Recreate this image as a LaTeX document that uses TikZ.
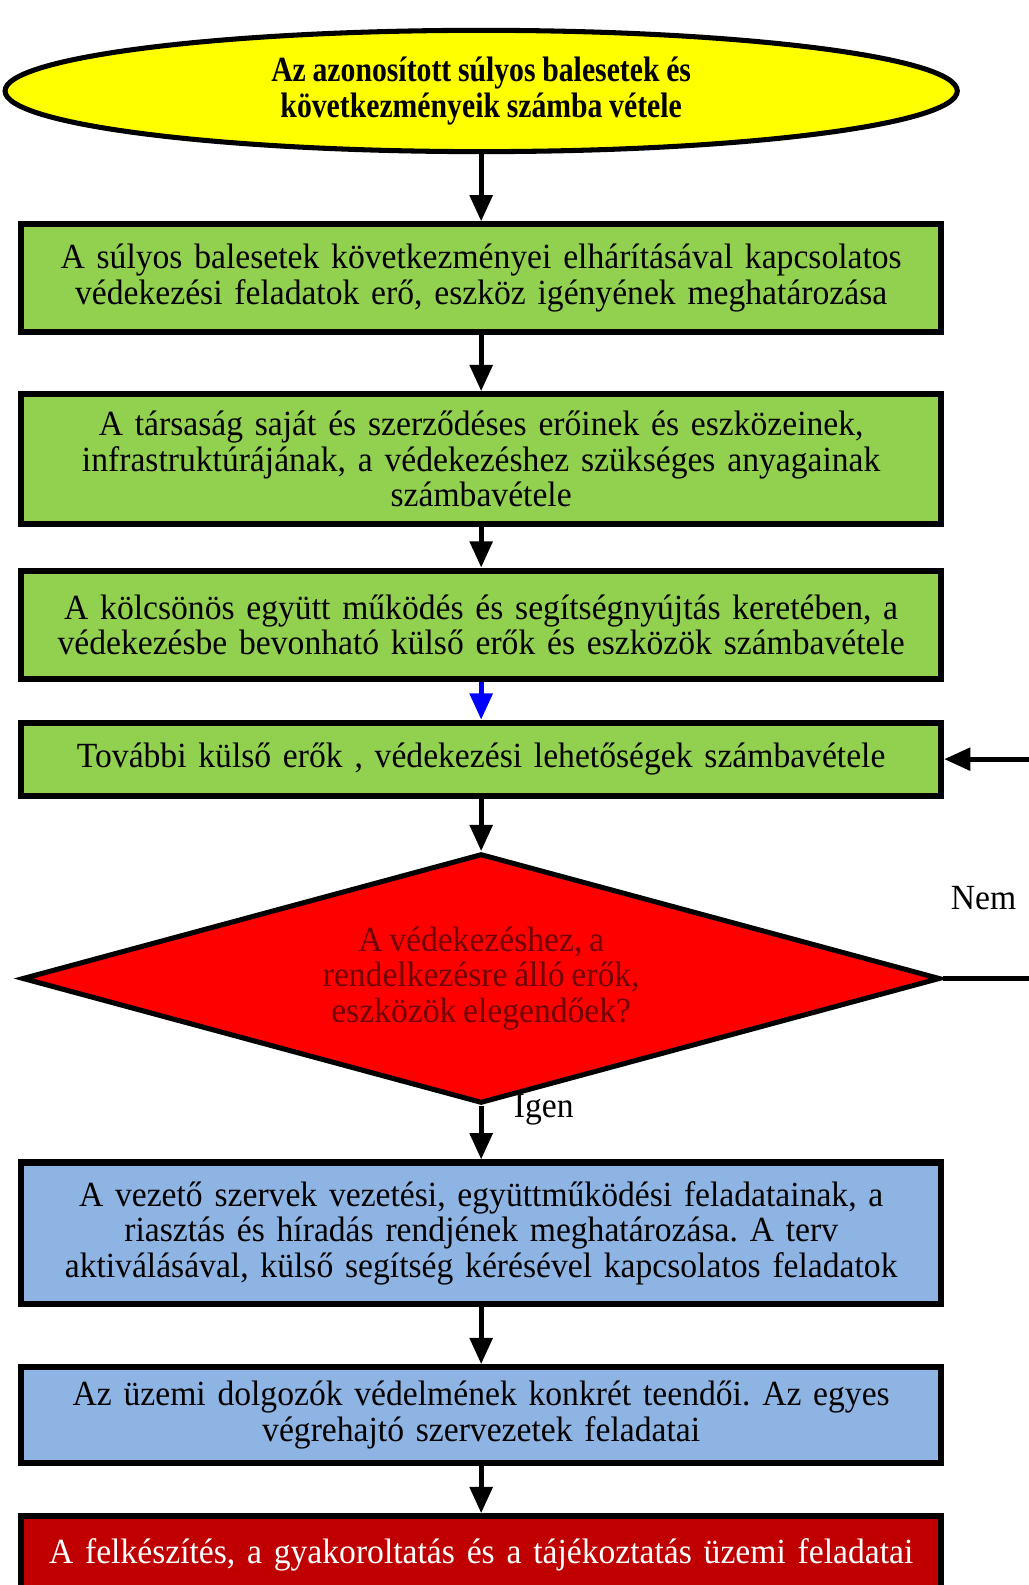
\documentclass[tikz,border=0pt]{standalone}
\usepackage{fontspec}
\setmainfont[FakeStretch=0.95]{Liberation Serif}
\newfontfamily\startfont[FakeStretch=0.84]{Liberation Serif}
\usetikzlibrary{arrows.meta,shapes.geometric}
\definecolor{stepgreen}{HTML}{92D050}
\definecolor{stepblue}{HTML}{8EB4E3}
\definecolor{startyellow}{HTML}{FFFF00}
\definecolor{decisionred}{HTML}{FF0000}
\definecolor{questionred}{HTML}{700000}
\definecolor{finalred}{HTML}{C00000}
\definecolor{linkblue}{HTML}{0000FF}
\frenchspacing
\newcommand{\boxfont}{\fontsize{17.5}{17.5}\selectfont\spaceskip=0.19em plus 0.05em}

\begin{document}
\begin{tikzpicture}[x=0.5pt, y=-0.5pt,
    stepbox/.style={draw=black, line width=3pt, minimum width=455pt, text width=450pt, align=center, inner sep=0pt, font=\boxfont},
    larrow/.style={-{Triangle[length=13pt,width=11pt]}, line width=2.5pt}
]
\useasboundingbox (0,0) rectangle (1017,1568);

\node[ellipse, draw=black, line width=2.5pt, fill=startyellow, minimum width=471pt, minimum height=60pt, inner sep=0pt, align=center, font=\startfont\bfseries\boxfont] (start) at (476,90) {Az azonosított súlyos balesetek és\\ következményeik számba vétele};

\node[stepbox, fill=stepgreen, minimum height=53pt] (need) at (476,275) {A súlyos balesetek következményei elhárításával kapcsolatos\\ védekezési feladatok erő, eszköz igényének meghatározása};
\node[stepbox, fill=stepgreen, minimum height=64pt] (own) at (476,454) {A társaság saját és szerződéses erőinek és eszközeinek,\\ infrastruktúrájának, a védekezéshez szükséges anyagainak\\ számbavétele};
\node[stepbox, fill=stepgreen, minimum height=53.5pt] (mutual) at (476,618) {A kölcsönös együtt működés és segítségnyújtás keretében, a\\ védekezésbe bevonható külső erők és eszközök számbavétele};
\node[stepbox, fill=stepgreen, minimum height=36pt] (further) at (476,751) {További külső erők , védekezési lehetőségek számbavétele};

\node[diamond, shape aspect=3.7, draw=black, line width=2.5pt, fill=decisionred, minimum width=454pt, minimum height=123.5pt, inner sep=0pt, align=center, text=questionred, font=\boxfont] (enough) at (476,968) {A védekezéshez, a\\ rendelkezésre álló erők,\\ eszközök elegendőek?};

\node[stepbox, fill=stepblue, minimum height=70pt] (lead) at (476,1220) {A vezető szervek vezetési, együttműködési feladatainak, a\\ riasztás és híradás rendjének meghatározása. A terv\\ aktiválásával, külső segítség kérésével kapcsolatos feladatok};
\node[stepbox, fill=stepblue, minimum height=47.5pt] (staff) at (476,1400) {Az üzemi dolgozók védelmének konkrét teendői. Az egyes\\ végrehajtó szervezetek feladatai};
\node[stepbox, fill=finalred, text=white, minimum height=38pt] (train) at (476,1538) {A felkészítés, a gyakoroltatás és a tájékoztatás üzemi feladatai};

\coordinate (nolow) at (1026,968);
\coordinate (noup) at (1026,751);
\node[font=\boxfont] (nem) at (973,888) {Nem};
\node[font=\boxfont] (igen) at (538,1098) {Igen};

\draw[larrow] (start) -- (need);
\draw[larrow] (need) -- (own);
\draw[larrow] (own) -- (mutual);
\draw[larrow, color=linkblue] (mutual) -- (further);
\draw[larrow] (further) -- (enough);
\draw[larrow] (enough) -- (lead);
\draw[larrow] (lead) -- (staff);
\draw[larrow] (staff) -- (train);
\draw[larrow] (enough.east) -- (nolow) -- (noup) -- (further.east);

\end{tikzpicture}
\end{document}
